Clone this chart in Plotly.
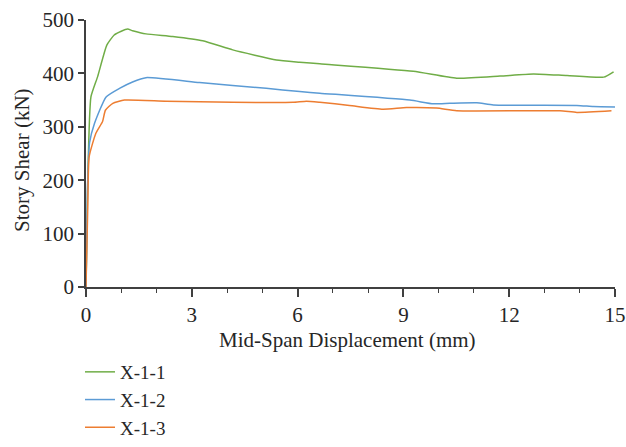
import plotly.graph_objects as go

# X-1-1 (green)
x1 = [0, 0.05, 0.14, 0.33, 0.59, 0.80, 1.00, 1.18, 1.32, 1.70, 2.46, 3.31, 4.16, 5.40, 6.06, 6.63, 9.28, 10.51, 11.74, 12.69, 13.64, 14.68, 14.96]
y1 = [0, 200, 356, 394, 453, 472, 479, 483, 480, 474, 469, 461, 444, 425, 421, 418, 404, 391, 395, 399, 396, 393, 403]
# X-1-2 (blue)
x2 = [0, 0.04, 0.10, 0.24, 0.57, 0.95, 1.32, 1.70, 3.22, 5.11, 6.06, 6.63, 9.18, 9.85, 10.32, 11.08, 11.55, 13.92, 14.39, 15.0]
y2 = [0, 180, 270, 306, 356, 372, 384, 392, 383, 372, 366, 363, 350, 343, 344, 345, 341, 340, 338, 337]
# X-1-3 (orange)
x3 = [0, 0.05, 0.09, 0.28, 0.47, 0.55, 0.76, 1.09, 2.27, 4.16, 5.87, 6.25, 6.63, 7.47, 8.42, 9.09, 9.94, 10.51, 13.44, 13.92, 14.90]
y3 = [0, 150, 244, 288, 310, 331, 344, 350, 348, 346, 346, 348, 346, 340, 333, 336, 335, 330, 330, 327, 330]

names = ["X-1-1", "X-1-2", "X-1-3"]
colors = ["#70AD47", "#5B9BD5", "#ED7D31"]
x_title = "Mid-Span Displacement (mm)"
y_title = "Story Shear (kN)"
FONT = "Liberation Serif"
FS = 21

fig = go.Figure()
for xs, ys, n, c in zip([x1, x2, x3], [y1, y2, y3], names, colors):
    fig.add_trace(go.Scatter(x=xs, y=ys, mode="lines", name=n,
                             line=dict(color=c, width=1.5, shape="spline", smoothing=0.5)))

axis_color = "#404040"
text_color = "#262626"
fig.update_layout(
    width=626, height=447,
    margin=dict(l=86, r=11, t=20, b=160, autoexpand=False),
    paper_bgcolor="white", plot_bgcolor="white",
    font=dict(family=FONT, size=FS, color=text_color),
    showlegend=True,
    legend=dict(orientation="v", xref="container", x=80 / 626, xanchor="left",
                yref="container", y=0, yanchor="bottom",
                font=dict(family=FONT, size=19, color=text_color), tracegroupgap=0,
                borderwidth=0, bgcolor="rgba(0,0,0,0)"),
    xaxis=dict(range=[0, 15], tickvals=[0, 3, 6, 9, 12, 15], showgrid=False, zeroline=False,
               showline=True, linecolor=axis_color, linewidth=1.5, automargin=False,
               ticks="outside", ticklen=8, tickwidth=1.5, tickcolor=axis_color,
               tickfont=dict(size=FS),
               minor=dict(dtick=1, ticks="outside", ticklen=4, tickwidth=1, tickcolor=axis_color)),
    yaxis=dict(range=[0, 500], tickvals=[0, 100, 200, 300, 400, 500], showgrid=False, zeroline=False,
               showline=True, linecolor=axis_color, linewidth=1.5, automargin=False,
               ticks="outside", ticklen=6, tickwidth=1.5, tickcolor=axis_color,
               tickfont=dict(size=FS)),
    annotations=[
        dict(text=x_title, xref="paper", yref="paper", x=0.495, y=-0.20,
             xanchor="center", yanchor="middle", showarrow=False,
             font=dict(family=FONT, size=FS, color=text_color)),
        dict(text=y_title, xref="paper", yref="paper", x=-0.121, y=0.476,
             xanchor="center", yanchor="middle", showarrow=False, textangle=-90,
             font=dict(family=FONT, size=FS, color=text_color)),
    ],
)

fig.write_html("out.html")
